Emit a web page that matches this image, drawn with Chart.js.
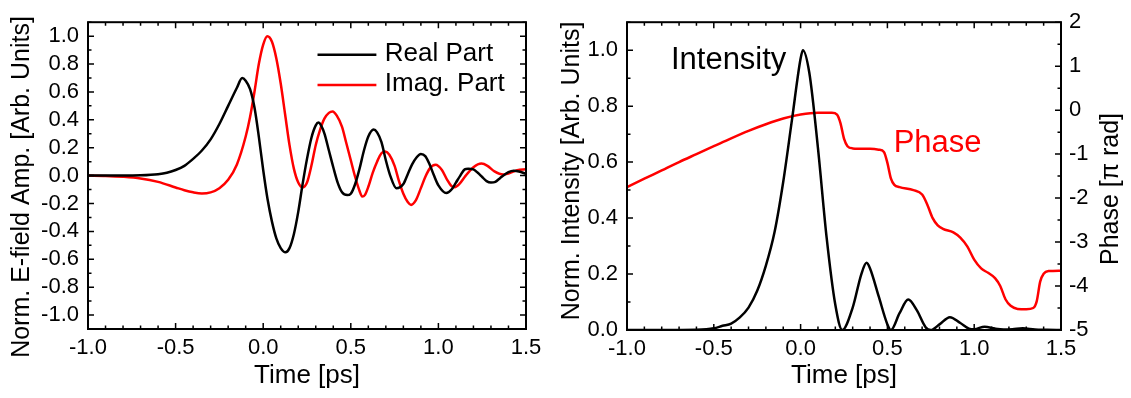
<!DOCTYPE html>
<html>
<head>
<meta charset="utf-8">
<script src="https://cdn.jsdelivr.net/npm/chart.js@4.4.1/dist/chart.umd.min.js"></script>
<style>
  body { margin: 0; background: #fff; }
  #wrap { position: relative; width: 1131px; height: 398px; }
  .box { position: absolute; top: 0; height: 398px; }
</style>
</head>
<body>
<div id="wrap">
  <div class="box" style="left:0;width:560px"><canvas id="fieldChart"></canvas></div>
  <div class="box" style="left:560px;width:571px"><canvas id="intensityChart"></canvas></div>
</div>
<script>
// tick labels
const timeTicks = [-1.0, -0.5, 0.0, 0.5, 1.0, 1.5];
const fieldTicks = [-1.0, -0.8, -0.6, -0.4, -0.2, 0.0, 0.2, 0.4, 0.6, 0.8, 1.0];
const intensityTicks = [0.0, 0.2, 0.4, 0.6, 0.8, 1.0];
const phaseTicks = [-5, -4, -3, -2, -1, 0, 1, 2];

// left panel: real part
const realT = [-1.0,-0.9,-0.8,-0.7,-0.6,-0.55,-0.5,-0.45,-0.4,-0.35,-0.3,-0.25,-0.2,-0.15,-0.12,-0.1,-0.075,-0.05,-0.025,0.0,
  0.025,0.05,0.075,0.1,0.127,0.15,0.175,0.2,0.225,0.25,0.275,0.3,0.316,0.33,0.35,0.375,0.4,0.425,0.45,0.48,
  0.5,0.525,0.55,0.575,0.6,0.63,0.65,0.675,0.7,0.725,0.76,0.8,0.825,0.85,0.875,0.9,0.925,0.95,0.975,1.0,
  1.045,1.075,1.1,1.125,1.15,1.17,1.2,1.225,1.25,1.275,1.3,1.325,1.35,1.4,1.43,1.46,1.5];
const realV = [0,0,0,0.002,0.01,0.02,0.04,0.07,0.12,0.18,0.26,0.37,0.5,0.63,0.7,0.68,0.62,0.49,0.28,0.04,
  -0.17,-0.33,-0.45,-0.52,-0.55,-0.52,-0.42,-0.26,-0.06,0.12,0.27,0.36,0.38,0.36,0.3,0.18,0.06,-0.05,-0.12,-0.14,
  -0.13,-0.06,0.05,0.18,0.28,0.33,0.31,0.24,0.11,0.0,-0.09,-0.06,0.01,0.08,0.13,0.155,0.14,0.08,0.0,-0.07,
  -0.125,-0.1,-0.05,0.0,0.045,0.05,0.045,0.02,-0.01,-0.04,-0.05,-0.045,-0.02,0.025,0.035,0.03,0.012];

// left panel: imaginary part
const imagT = [-1.0,-0.9,-0.8,-0.7,-0.6,-0.5,-0.45,-0.4,-0.35,-0.3,-0.25,-0.2,-0.15,-0.1,-0.075,-0.05,-0.025,0.0,0.024,0.05,
  0.075,0.1,0.125,0.15,0.175,0.2,0.225,0.25,0.275,0.3,0.325,0.35,0.375,0.396,0.42,0.45,0.475,0.5,0.525,0.55,
  0.565,0.58,0.6,0.625,0.65,0.675,0.697,0.72,0.75,0.775,0.8,0.825,0.844,0.87,0.9,0.925,0.95,0.984,1.02,1.05,
  1.075,1.093,1.12,1.15,1.2,1.246,1.28,1.32,1.37,1.4,1.45,1.5];
const imagV = [0,-0.002,-0.008,-0.02,-0.045,-0.085,-0.105,-0.12,-0.128,-0.12,-0.09,-0.03,0.08,0.28,0.42,0.6,0.8,0.94,1.0,0.96,
  0.84,0.66,0.44,0.22,0.05,-0.05,-0.085,-0.05,0.07,0.22,0.33,0.41,0.45,0.46,0.43,0.35,0.23,0.11,-0.01,-0.11,
  -0.15,-0.14,-0.08,0.02,0.1,0.16,0.172,0.15,0.07,-0.04,-0.13,-0.19,-0.21,-0.18,-0.09,-0.01,0.05,0.077,0.04,-0.03,
  -0.075,-0.083,-0.06,-0.01,0.06,0.086,0.07,0.03,0.008,0.015,0.038,0.045];

// right panel: intensity
const intT = [-1.0,-0.8,-0.6,-0.5,-0.45,-0.4,-0.35,-0.3,-0.25,-0.2,-0.15,-0.1,-0.05,0.0,0.013,0.05,0.1,0.15,0.2,0.24,
  0.3,0.35,0.38,0.4,0.45,0.5,0.52,0.57,0.62,0.67,0.72,0.75,0.8,0.86,0.92,0.97,1.0,1.06,1.12,1.17,
  1.22,1.28,1.35,1.42,1.5];
const intV = [0,0,0.001,0.006,0.015,0.023,0.045,0.08,0.14,0.23,0.35,0.53,0.75,0.97,1.0,0.92,0.65,0.33,0.09,0.0,
  0.08,0.2,0.24,0.22,0.12,0.02,0.0,0.06,0.109,0.07,0.01,0.0,0.02,0.046,0.025,0.005,0.003,0.012,0.005,0.002,
  0.003,0.006,0.002,0.001,0.0];

// right panel: phase (units of pi)
const phT = [-1.0,-0.9,-0.8,-0.7,-0.6,-0.5,-0.4,-0.3,-0.2,-0.1,0.0,0.1,0.18,0.21,0.23,0.25,0.27,0.3,0.4,0.45,
  0.48,0.5,0.52,0.54,0.57,0.65,0.7,0.73,0.76,0.79,0.82,0.88,0.92,0.96,1.0,1.04,1.08,1.12,1.15,1.18,
  1.21,1.25,1.3,1.34,1.36,1.38,1.4,1.43,1.5];
const phV = [-1.75,-1.56,-1.37,-1.18,-1.0,-0.82,-0.64,-0.47,-0.32,-0.19,-0.1,-0.06,-0.06,-0.1,-0.3,-0.65,-0.82,-0.87,-0.88,-0.9,
  -0.95,-1.2,-1.55,-1.7,-1.75,-1.82,-1.92,-2.15,-2.45,-2.62,-2.7,-2.78,-2.9,-3.1,-3.4,-3.6,-3.7,-3.82,-4.0,-4.3,
  -4.45,-4.52,-4.53,-4.5,-4.35,-3.9,-3.72,-3.66,-3.65];

const FONT = '"Liberation Sans", Arial, sans-serif';
Chart.defaults.font.family = FONT;
Chart.defaults.color = '#000';

const pts = (ts, vs) => ts.map((t, i) => ({x: t, y: vs[i]}));

// frame, inward ticks, legend and free text
const decor = {
  id: 'decor',
  afterDraw(chart, args, opts) {
    const {ctx, chartArea: a, scales} = chart;
    ctx.save();
    ctx.strokeStyle = '#000';
    ctx.lineWidth = 1.5;
    ctx.beginPath();
    (opts.ticks || []).forEach(tk => {
      const sc = scales[tk.scale];
      const i0 = Math.ceil(sc.min / tk.minor - 1e-6), i1 = Math.floor(sc.max / tk.minor + 1e-6);
      for (let i = i0; i <= i1; i++) {
        const v = i * tk.minor;
        const r = v / tk.major;
        const len = Math.abs(r - Math.round(r)) < 1e-6 ? 6 : 3.5;
        const p = sc.getPixelForValue(v);
        tk.sides.forEach(s => {
          if (s === 'bottom') { ctx.moveTo(p, a.bottom); ctx.lineTo(p, a.bottom - len); }
          if (s === 'top') { ctx.moveTo(p, a.top); ctx.lineTo(p, a.top + len); }
          if (s === 'left') { ctx.moveTo(a.left, p); ctx.lineTo(a.left + len, p); }
          if (s === 'right') { ctx.moveTo(a.right, p); ctx.lineTo(a.right - len, p); }
        });
      }
    });
    ctx.stroke();
    ctx.lineWidth = 2;
    ctx.strokeRect(a.left, a.top, a.right - a.left, a.bottom - a.top);

    const x = scales.x, y = scales.y;
    (opts.legend || []).forEach(it => {
      const py = y.getPixelForValue(it.y);
      ctx.strokeStyle = it.color;
      ctx.lineWidth = 2.5;
      ctx.beginPath();
      ctx.moveTo(x.getPixelForValue(it.x0), py);
      ctx.lineTo(x.getPixelForValue(it.x1), py);
      ctx.stroke();
      ctx.fillStyle = '#000';
      ctx.font = '26px ' + FONT;
      ctx.textAlign = 'left';
      ctx.textBaseline = 'middle';
      ctx.fillText(it.text, x.getPixelForValue(it.tx), py - 1);
    });
    (opts.labels || []).forEach(it => {
      ctx.fillStyle = it.color;
      ctx.font = it.size + 'px ' + FONT;
      ctx.textAlign = 'left';
      ctx.textBaseline = 'middle';
      ctx.fillText(it.text, x.getPixelForValue(it.x), y.getPixelForValue(it.y));
    });
    (opts.sideTitles || []).forEach(it => {
      ctx.save();
      ctx.translate(it.px, it.py);
      ctx.rotate(-Math.PI / 2);
      ctx.fillStyle = '#000';
      ctx.font = '25px ' + FONT;
      ctx.textAlign = 'center';
      ctx.textBaseline = 'middle';
      ctx.fillText(it.text, 0, 0);
      ctx.restore();
    });
    ctx.restore();
  }
};

const fmt1 = v => Number(v).toFixed(1);
const fixedTicks = list => scale => { scale.ticks = list.map(v => ({value: v})); };

function xScale(h) {
  return {
    type: 'linear', min: -1.0, max: 1.5,
    afterBuildTicks: fixedTicks(timeTicks),
    afterFit: s => { s.height = h; },
    grid: {display: false, drawTicks: false},
    border: {display: false},
    ticks: {font: {size: 22}, padding: 6, maxRotation: 0, callback: fmt1},
    title: {display: true, text: 'Time [ps]', font: {size: 26, lineHeight: 1}, padding: {top: 0, bottom: 9}}
  };
}

new Chart(document.getElementById('fieldChart'), {
  type: 'line',
  data: {
    datasets: [
      {label: 'Real Part', data: pts(realT, realV), borderColor: '#000'},
      {label: 'Imag. Part', data: pts(imagT, imagV), borderColor: '#ff0000'}
    ]
  },
  options: {
    responsive: true, maintainAspectRatio: false, animation: false,
    layout: {padding: {top: 8, right: 34, left: 0, bottom: 0}},
    elements: {point: {radius: 0}, line: {borderWidth: 2.5, fill: false, cubicInterpolationMode: 'monotone'}},
    scales: {
      x: xScale(69),
      y: {
        type: 'linear', min: -1.1, max: 1.1,
        afterBuildTicks: fixedTicks(fieldTicks),
        afterFit: s => { s.width = 88; },
        grid: {display: false, drawTicks: false},
        border: {display: false},
        ticks: {font: {size: 22}, padding: 9, callback: fmt1}
      }
    },
    plugins: {
      legend: {display: false},
      tooltip: {enabled: false},
      decor: {
        ticks: [
          {scale: 'x', sides: ['bottom', 'top'], major: 0.5, minor: 0.1},
          {scale: 'y', sides: ['left', 'right'], major: 0.2, minor: 0.1}
        ],
        legend: [
          {text: 'Real Part', color: '#000', x0: 0.31, x1: 0.646, tx: 0.694, y: 0.867},
          {text: 'Imag. Part', color: '#ff0000', x0: 0.31, x1: 0.646, tx: 0.694, y: 0.65}
        ],
        sideTitles: [{text: 'Norm. E-field Amp. [Arb. Units]', px: 22, py: 187}]
      }
    }
  },
  plugins: [decor]
});

new Chart(document.getElementById('intensityChart'), {
  type: 'line',
  data: {
    datasets: [
      {label: 'Intensity', data: pts(intT, intV), borderColor: '#000', yAxisID: 'y'},
      {label: 'Phase', data: pts(phT, phV), borderColor: '#ff0000', yAxisID: 'y2'}
    ]
  },
  options: {
    responsive: true, maintainAspectRatio: false, animation: false,
    layout: {padding: {top: 10, right: 0, left: 0, bottom: 0}},
    elements: {point: {radius: 0}, line: {borderWidth: 2.5, fill: false, cubicInterpolationMode: 'monotone'}},
    scales: {
      x: xScale(68),
      y: {
        type: 'linear', position: 'left', min: 0, max: 1.1,
        afterBuildTicks: fixedTicks(intensityTicks),
        afterFit: s => { s.width = 67; },
        grid: {display: false, drawTicks: false},
        border: {display: false},
        ticks: {font: {size: 22}, padding: 9, callback: fmt1}
      },
      y2: {
        type: 'linear', position: 'right', min: -5, max: 2,
        afterBuildTicks: fixedTicks(phaseTicks),
        afterFit: s => { s.width = 70; },
        grid: {display: false, drawTicks: false},
        border: {display: false},
        ticks: {font: {size: 22}, padding: 8, callback: v => String(v)}
      }
    },
    plugins: {
      legend: {display: false},
      tooltip: {enabled: false},
      decor: {
        ticks: [
          {scale: 'x', sides: ['bottom', 'top'], major: 0.5, minor: 0.1},
          {scale: 'y', sides: ['left'], major: 0.2, minor: 0.1},
          {scale: 'y2', sides: ['right'], major: 1, minor: 0.5}
        ],
        labels: [
          {text: 'Intensity', color: '#000', size: 31, x: -0.747, y: 0.965},
          {text: 'Phase', color: '#ff0000', size: 31, x: 0.536, y: 0.666}
        ],
        sideTitles: [
          {text: 'Norm. Intensity [Arb. Units]', px: 12, py: 171},
          {text: 'Phase [\u03c0 rad]', px: 551, py: 189}
        ]
      }
    }
  },
  plugins: [decor]
});
</script>
</body>
</html>
